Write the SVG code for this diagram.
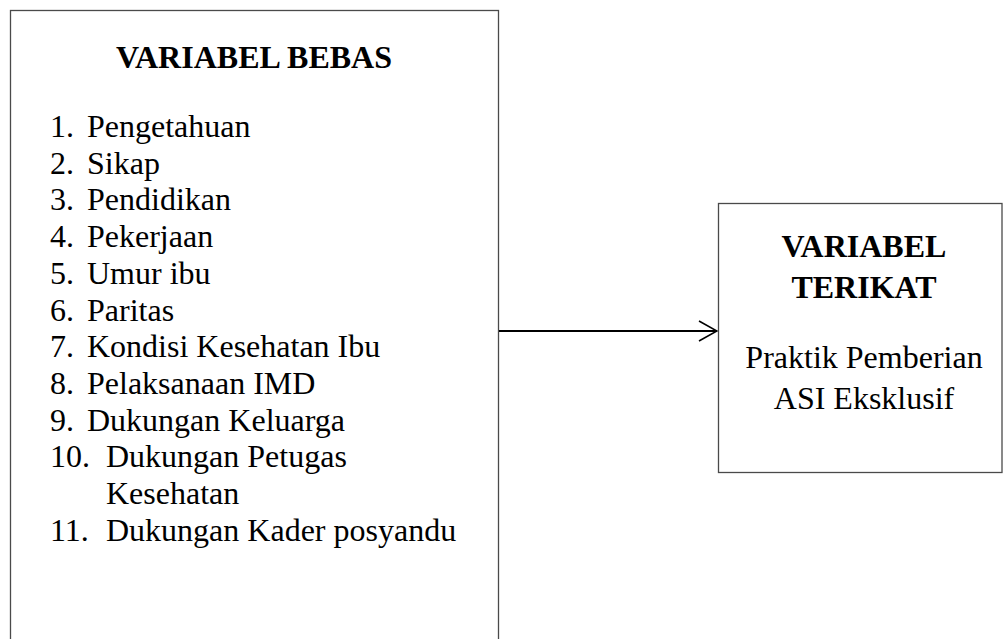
<svg xmlns="http://www.w3.org/2000/svg" width="1005" height="639" viewBox="0 0 1005 639">
<style>
.box{fill:#fff;stroke:#4a4a4a;stroke-width:1.3}
.t{font-family:"Liberation Serif","Times New Roman",serif;font-size:32px;fill:#000}
.b{font-weight:bold}
.c{text-anchor:middle}
.conn{stroke:#000;stroke-width:2;fill:none}
</style>
<defs>
<marker id="arr" markerWidth="20" markerHeight="22" refX="19" refY="11" orient="auto" markerUnits="userSpaceOnUse">
<path d="M1,1 L19,11 L1,21" fill="none" stroke="#000" stroke-width="1.6"/>
</marker>
</defs>
<g id="bebas">
<rect class="box" x="10.5" y="10.5" width="488" height="660"/>
<text class="t b c" x="254" y="68">VARIABEL BEBAS</text>
<text class="t" x="50" y="137">1.</text><text class="t" x="87" y="137">Pengetahuan</text>
<text class="t" x="50" y="173.7">2.</text><text class="t" x="87" y="173.7">Sikap</text>
<text class="t" x="50" y="210.4">3.</text><text class="t" x="87" y="210.4">Pendidikan</text>
<text class="t" x="50" y="247.1">4.</text><text class="t" x="87" y="247.1">Pekerjaan</text>
<text class="t" x="50" y="283.8">5.</text><text class="t" x="87" y="283.8">Umur ibu</text>
<text class="t" x="50" y="320.5">6.</text><text class="t" x="87" y="320.5">Paritas</text>
<text class="t" x="50" y="357.2">7.</text><text class="t" x="87" y="357.2">Kondisi Kesehatan Ibu</text>
<text class="t" x="50" y="393.9">8.</text><text class="t" x="87" y="393.9">Pelaksanaan IMD</text>
<text class="t" x="50" y="430.6">9.</text><text class="t" x="87" y="430.6">Dukungan Keluarga</text>
<text class="t" x="50" y="467.3">10.</text><text class="t" x="106" y="467.3">Dukungan Petugas</text>
<text class="t" x="106" y="504">Kesehatan</text>
<text class="t" x="50" y="540.7">11.</text><text class="t" x="106" y="540.7">Dukungan Kader posyandu</text>
</g>
<g id="terikat">
<rect class="box" x="718.5" y="203.5" width="283.5" height="269"/>
<text class="t b c" x="864" y="256.5">VARIABEL</text>
<text class="t b c" x="864" y="298">TERIKAT</text>
<text class="t c" x="864" y="368">Praktik Pemberian</text>
<text class="t c" x="864" y="409">ASI Eksklusif</text>
</g>
<g id="connectors">
<line class="conn" x1="499" y1="331" x2="717" y2="331" marker-end="url(#arr)"/>
</g>
</svg>
